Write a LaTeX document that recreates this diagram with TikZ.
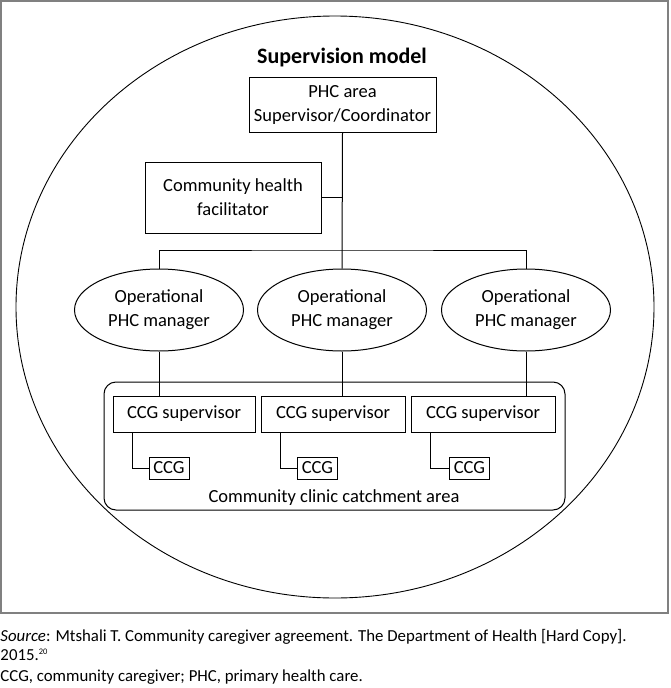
\documentclass[tikz,border=0pt]{standalone}
\usepackage{fontspec}
\setmainfont{Carlito}
\usetikzlibrary{shapes.geometric}
\begin{document}
\begin{tikzpicture}[x=1pt,y=-1pt,line width=1pt,
    box/.style={draw,rectangle,align=center,inner sep=0pt,font=\fontsize{18.5}{24}\selectfont},
    mgr/.style={draw,ellipse,align=center,inner sep=0pt,minimum width=169pt,minimum height=82pt,font=\fontsize{18.5}{24}\selectfont},
    caption/.style={anchor=west,inner sep=0pt,font=\fontsize{16.8}{19}\selectfont}]
    \useasboundingbox (0,0) rectangle (670,688);
    \draw[line width=1.6pt,black!50] (1,1) rectangle (668,613);
    \draw[line width=0.9pt] (335,307) ellipse [x radius=319pt,y radius=291pt];
    \node[font=\fontsize{22}{26}\selectfont\bfseries] (title) at (342,58) {Supervision model};
    \node[box,minimum width=187pt,minimum height=55pt] (phc) at (342.5,105) {PHC area\\Supervisor/Coordinator};
    \node[box,minimum width=176pt,minimum height=71pt] (chf) at (233,197.5) {Community health\\facilitator};
    \node[mgr] (mgr1) at (159,310) {Operational\\PHC manager};
    \node[mgr] (mgr2) at (342,310) {Operational\\PHC manager};
    \node[mgr] (mgr3) at (526,310) {Operational\\PHC manager};
    \coordinate (bus) at (342,250);
    \node[draw,rounded corners=12pt,minimum width=461pt,minimum height=128pt] (area) at (334.5,446) {};
    \node[font=\fontsize{18.5}{24}\selectfont,inner sep=0pt] (arealbl) at (334,498) {Community clinic catchment area};
    \node[box,minimum width=142pt,minimum height=36pt] (sup1) at (184,414) {CCG supervisor};
    \node[box,minimum width=144pt,minimum height=36pt] (sup2) at (333,414) {CCG supervisor};
    \node[box,minimum width=144pt,minimum height=36pt] (sup3) at (483,414) {CCG supervisor};
    \node[box,minimum width=40pt,minimum height=22pt] (ccg1) at (169,468) {CCG};
    \node[box,minimum width=40pt,minimum height=22pt] (ccg2) at (317.5,468) {CCG};
    \node[box,minimum width=40pt,minimum height=22pt] (ccg3) at (469.5,468) {CCG};
    % links
    \draw (phc.south) -- (mgr2.north);
    \draw (chf.east) -- (chf.east -| phc.south);
    \draw (mgr1.north) |- (bus) -| (mgr3.north);
    \foreach \i in {1,2,3} {
        \draw (mgr\i.south) -- (mgr\i.south |- sup\i.north);
        \draw ([xshift=20pt]sup\i.south west) |- (ccg\i.west);
    }
    \node[caption] (src) at (0,637) {\textit{Source}: Mtshali T. Community caregiver agreement. The Department of Health [Hard Copy].};
    \node[caption] (yr) at (0,655) {2015.\raisebox{0.7ex}{\fontsize{8.5}{9}\selectfont 20}};
    \node[caption] (abbr) at (0,677) {CCG, community caregiver; PHC, primary health care.};
\end{tikzpicture}
\end{document}
